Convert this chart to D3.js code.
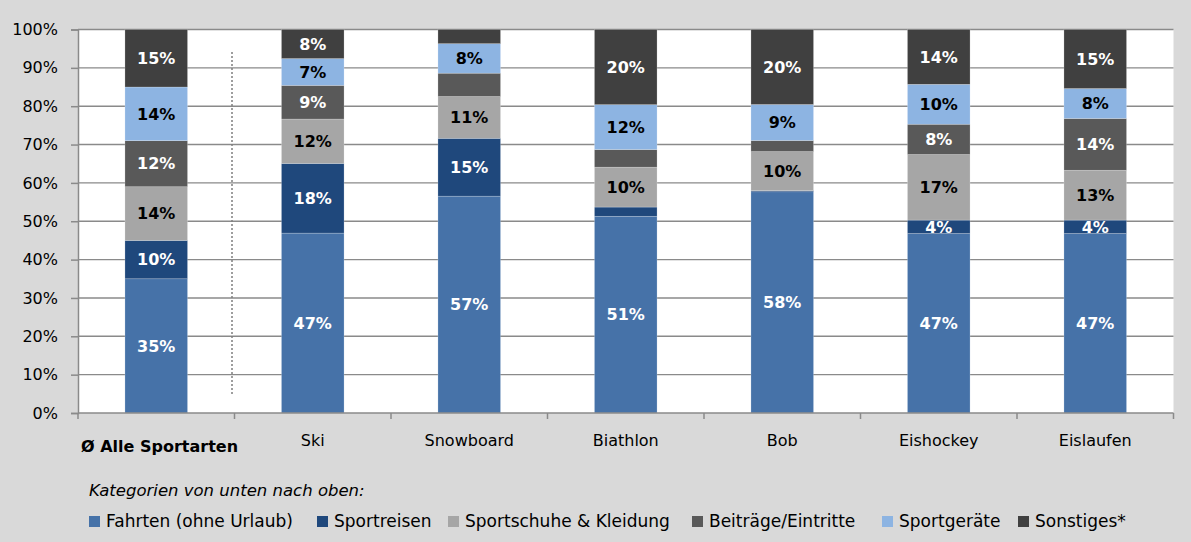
<!DOCTYPE html>
<html>
<head>
<meta charset="utf-8">
<script src="https://cdn.jsdelivr.net/npm/d3@7"></script>
<style>
  html, body { margin: 0; padding: 0; background: #ffffff; }
  svg { display: block; font-family: "DejaVu Sans", sans-serif; }
</style>
</head>
<body>
<svg id="chart" width="1191" height="542"></svg>
<script>
// ---- data ----
const categories = ["Ø Alle Sportarten", "Ski", "Snowboard", "Biathlon", "Bob", "Eishockey", "Eislaufen"];
const seriesNames = ["Fahrten (ohne Urlaub)", "Sportreisen", "Sportschuhe & Kleidung", "Beiträge/Eintritte", "Sportgeräte", "Sonstiges*"];
const fahrten    = [35, 47,   56.6, 51.3, 57.8, 46.8, 46.8];
const sportreisen= [10, 18.2, 15.1, 2.4,  0.3,  3.5,  3.5];
const kleidung   = [14, 11.6, 10.9, 10.4, 10.2, 17.1, 13.0];
const beitraege  = [12, 8.8,  6.1,  4.6,  2.9,  7.9,  13.5];
const geraete    = [14, 7.0,  7.7,  11.7, 9.4,  10.4, 7.8];
const sonstiges  = [15, 7.6,  3.7,  19.6, 19.6, 14.3, 15.4];
const seriesValues = [fahrten, sportreisen, kleidung, beitraege, geraete, sonstiges];
// segments whose value label is not shown: [seriesIndex, categoryIndex]
const hiddenLabels = [[1,3],[1,4],[3,2],[3,3],[3,4],[5,2]];
const yTicks = [0, 10, 20, 30, 40, 50, 60, 70, 80, 90, 100];
const legendTitle = "Kategorien von unten nach oben:";

// ---- styles ----
const colors = ["#4672a8", "#1f487c", "#a6a6a6", "#595959", "#8db4e2", "#404040"];
const labelColors = ["#ffffff", "#ffffff", "#000000", "#ffffff", "#000000", "#ffffff"];

const svg = d3.select("#chart");
const W = 1191, H = 542;
svg.append("rect").attr("x", 0).attr("y", 0).attr("width", W).attr("height", H).attr("fill", "#d9d9d9");

const m = { left: 78, right: 1173.5, top: 29.5, bottom: 413 };
svg.append("rect").attr("x", m.left).attr("y", m.top).attr("width", m.right - m.left).attr("height", m.bottom - m.top).attr("fill", "#ffffff");

const x = d3.scaleBand().domain(categories).range([m.left, m.right]).paddingInner(0.6).paddingOuter(0.3);
const y = d3.scaleLinear().domain([0, 100]).range([m.bottom, m.top]);

// table
const table = categories.map((c, i) => {
  const row = { cat: c };
  seriesNames.forEach((s, j) => row[s] = seriesValues[j][i]);
  return row;
});
const stack = d3.stack().keys(seriesNames).offset(d3.stackOffsetExpand);
const stacked = stack(table);

// gridlines
svg.append("g").selectAll("line").data(yTicks.filter(t => t > 0)).join("line")
  .attr("x1", m.left).attr("x2", m.right)
  .attr("y1", d => y(d)).attr("y2", d => y(d))
  .attr("stroke", "#8a8a8a").attr("stroke-width", 1.4);

// bars
const hiddenSet = new Set(hiddenLabels.map(d => d[0] + "_" + d[1]));
stacked.forEach((layer, si) => {
  const g = svg.append("g");
  g.selectAll("rect").data(layer).join("rect")
    .attr("x", d => x(d.data.cat))
    .attr("width", x.bandwidth())
    .attr("y", d => y(d[1] * 100))
    .attr("height", d => y(d[0] * 100) - y(d[1] * 100))
    .attr("fill", colors[si])
    .attr("stroke", "rgba(255,255,255,0.35)").attr("stroke-width", 0.6);
});
stacked.forEach((layer, si) => {
  const g = svg.append("g");
  g.selectAll("text").data(layer.map((d, ci) => ({ d, ci })).filter(o => !hiddenSet.has(si + "_" + o.ci))).join("text")
    .attr("x", o => x(o.d.data.cat) + x.bandwidth() / 2)
    .attr("y", o => (y(o.d[0] * 100) + y(o.d[1] * 100)) / 2)
    .attr("dy", "0.36em")
    .attr("text-anchor", "middle")
    .attr("font-weight", "bold")
    .attr("font-size", 16)
    .attr("fill", labelColors[si])
    .text(o => Math.round(seriesValues[si][o.ci]) + "%");
});

// dotted separator
svg.append("line")
  .attr("x1", 232).attr("x2", 232)
  .attr("y1", 52).attr("y2", 395)
  .attr("stroke", "#7f7f7f").attr("stroke-width", 1.5).attr("stroke-dasharray", "2,2");

// y axis
const yAxis = svg.append("g").attr("transform", `translate(${m.left},0)`)
  .call(d3.axisLeft(y).tickValues(yTicks).tickFormat(d => d + "%").tickSize(7).tickPadding(13));
yAxis.select(".domain").attr("stroke", "#8a8a8a").attr("stroke-width", 1.5);
yAxis.selectAll(".tick line").attr("stroke", "#8a8a8a").attr("stroke-width", 1.5);
yAxis.selectAll(".tick text").attr("font-size", 16).attr("fill", "#000").attr("font-family", "DejaVu Sans");

// x axis baseline + ticks at boundaries
const bounds = d3.range(categories.length + 1).map(i => m.left + i * x.step());
svg.append("line").attr("x1", m.left).attr("x2", m.right).attr("y1", m.bottom).attr("y2", m.bottom)
  .attr("stroke", "#8a8a8a").attr("stroke-width", 1.5);
svg.append("g").selectAll("line").data(bounds).join("line")
  .attr("x1", d => d).attr("x2", d => d).attr("y1", m.bottom).attr("y2", m.bottom + 6)
  .attr("stroke", "#8a8a8a").attr("stroke-width", 1.5);

// category labels
svg.append("g").selectAll("text").data(categories).join("text")
  .attr("x", (d, i) => i === 0 ? 81 : x(d) + x.bandwidth() / 2)
  .attr("y", (d, i) => i === 0 ? 452 : 446)
  .attr("text-anchor", (d, i) => i === 0 ? "start" : "middle")
  .attr("font-weight", (d, i) => i === 0 ? "bold" : "normal")
  .attr("font-size", 16)
  .attr("fill", "#000")
  .text(d => d);

// legend
svg.append("text").attr("x", 89).attr("y", 496)
  .attr("font-style", "italic").attr("font-size", 16.5).attr("fill", "#000").text(legendTitle);
const legendX = [89, 317, 448, 692, 882, 1018];
const lg = svg.append("g").selectAll("g").data(seriesNames).join("g")
  .attr("transform", (d, i) => `translate(${legendX[i]},0)`);
lg.append("rect").attr("x", 0).attr("y", 516).attr("width", 11).attr("height", 11).attr("fill", (d, i) => colors[i]);
lg.append("text").attr("x", 17).attr("y", 527).attr("font-size", 17).attr("fill", "#000").text(d => d);
</script>
</body>
</html>
